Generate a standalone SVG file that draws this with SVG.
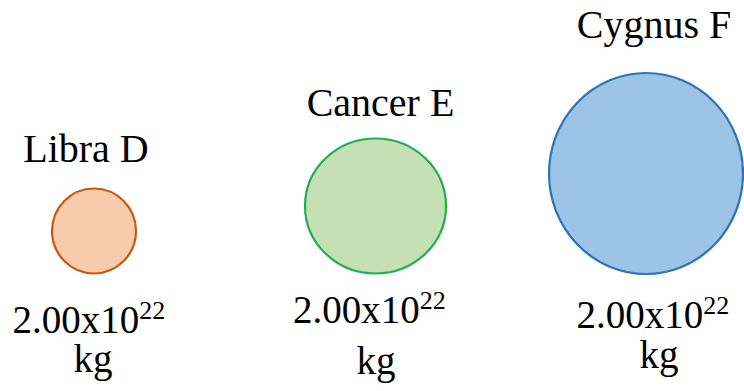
<svg xmlns="http://www.w3.org/2000/svg" width="744" height="391" viewBox="0 0 744 391">
<defs>
<style>
.t{font-family:'Liberation Serif','Times New Roman','DejaVu Serif',serif;font-size:40px;fill:#000}
.m{font-family:'Liberation Serif','Times New Roman','DejaVu Serif',serif;font-size:39px;fill:#000}
.sup{font-size:26px}
.c{stroke-width:2.2}
</style>
</defs>
<rect width="744" height="391" fill="#fff"/>
<g id="libra">
<text class="t" font-family="Liberation Serif, serif" x="86" y="162" text-anchor="middle">Libra D</text>
<ellipse class="c" cx="94" cy="231" rx="42" ry="42.5" fill="#F8CBAD" stroke="#C55A11"/>
<text class="m" font-family="Liberation Serif, serif" x="12.5" y="333">2.00x10<tspan class="sup" dy="-14">22</tspan></text>
<text class="m" font-family="Liberation Serif, serif" x="93" y="372" text-anchor="middle">kg</text>
</g>
<g id="cancer">
<text class="t" font-family="Liberation Serif, serif" x="380.5" y="116" text-anchor="middle">Cancer E</text>
<ellipse class="c" cx="375.5" cy="206" rx="70.5" ry="67.5" fill="#C5E0B4" stroke="#1DB04F"/>
<text class="m" font-family="Liberation Serif, serif" x="293" y="323">2.00x10<tspan class="sup" dy="-14">22</tspan></text>
<text class="m" font-family="Liberation Serif, serif" x="376" y="374" text-anchor="middle">kg</text>
</g>
<g id="cygnus">
<text class="t" font-family="Liberation Serif, serif" x="654" y="38" text-anchor="middle">Cygnus F</text>
<ellipse class="c" cx="646" cy="173.5" rx="97" ry="100.5" fill="#9DC3E6" stroke="#2E75B6"/>
<text class="m" font-family="Liberation Serif, serif" x="576.5" y="328">2.00x10<tspan class="sup" dy="-14">22</tspan></text>
<text class="m" font-family="Liberation Serif, serif" x="659" y="368" text-anchor="middle">kg</text>
</g>
<g id="connectors"></g>
</svg>
